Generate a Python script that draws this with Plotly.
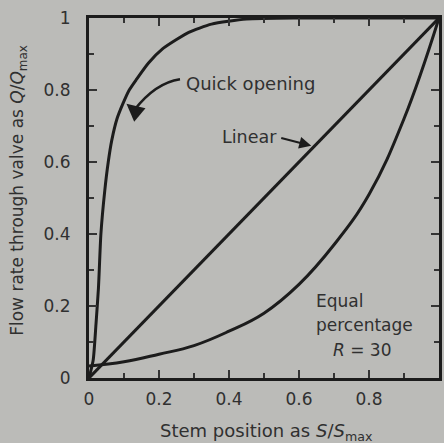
import plotly.graph_objects as go

# ---- data ----
quick_x = [0.0, 0.012, 0.02, 0.027, 0.034, 0.045, 0.055, 0.065, 0.08, 0.096, 0.115,
           0.136, 0.17, 0.21, 0.25, 0.285, 0.35, 0.45, 0.6, 0.8, 1.0]
quick_y = [0.0, 0.05, 0.15, 0.25, 0.4, 0.52, 0.6, 0.66, 0.72, 0.76, 0.8,
           0.83, 0.875, 0.914, 0.94, 0.96, 0.983, 0.997, 1.0, 1.0, 1.0]

linear_x = [0.0, 1.0]
linear_y = [0.0, 1.0]

equal_x = [0.0, 0.1, 0.2, 0.3, 0.4, 0.5, 0.6, 0.7, 0.8, 0.9, 1.0]
equal_y = [0.033, 0.045, 0.066, 0.09, 0.13, 0.18, 0.26, 0.37, 0.51, 0.72, 1.0]

x_tickvals = [0, 0.2, 0.4, 0.6, 0.8]
x_ticktext = ["0", "0.2", "0.4", "0.6", "0.8"]
y_tickvals = [0, 0.2, 0.4, 0.6, 0.8, 1.0]
y_ticktext = ["0", "0.2", "0.4", "0.6", "0.8", "1"]

INK = "#1c1c1c"
TXT = "#303030"
BG = "#bbbbb8"
FONT = "DejaVu Sans"

fig = go.Figure()
fig.add_trace(go.Scatter(x=quick_x, y=quick_y, mode="lines",
                         line=dict(color=INK, width=3, shape="spline", smoothing=0.6)))
fig.add_trace(go.Scatter(x=linear_x, y=linear_y, mode="lines",
                         line=dict(color=INK, width=3)))
fig.add_trace(go.Scatter(x=equal_x, y=equal_y, mode="lines",
                         line=dict(color=INK, width=3, shape="spline", smoothing=1.2)))

axis_common = dict(
    range=[0, 1], showgrid=False, zeroline=False, showline=True, linewidth=3,
    linecolor=INK, mirror="ticks", ticks="inside", ticklen=8, tickwidth=2,
    tickcolor="#333333", tickfont=dict(family=FONT, size=17, color=TXT),
    minor=dict(ticks="inside", ticklen=5, tickwidth=2, dtick=0.1, tick0=0,
               tickcolor="#333333"),
)
fig.update_xaxes(**axis_common, tickvals=x_tickvals, ticktext=x_ticktext,
                 ticklabelstandoff=4)
fig.update_yaxes(**axis_common, tickvals=y_tickvals, ticktext=y_ticktext,
                 ticklabelstandoff=12)

annotations = [
    # axis titles
    dict(text="Flow rate through valve as <i>Q</i>/<i>Q</i><sub>max</sub>",
         xref="paper", yref="paper", x=0, y=0.52, xshift=-70, xanchor="center",
         yanchor="middle", textangle=-90,
         showarrow=False, font=dict(family=FONT, size=17, color=TXT)),
    dict(text="Stem position as <i>S</i>/<i>S</i><sub>max</sub>",
         xref="paper", yref="paper", x=0.507, y=-0.15, xanchor="center",
         yanchor="middle", showarrow=False,
         font=dict(family=FONT, size=18, color=TXT)),
    # curve labels
    dict(text="Quick opening", x=0.27, y=0.818, xanchor="left", showarrow=False,
         font=dict(family=FONT, size=18, color=TXT)),
    dict(text="", x=0.107, y=0.762, ax=0.14, ay=0.735, axref="x", ayref="y",
         showarrow=True, arrowhead=2, arrowsize=1.4, arrowwidth=2.5, arrowcolor=INK),
    dict(text="Linear", x=0.375, y=0.67, xanchor="left", showarrow=False,
         font=dict(family=FONT, size=17.5, color=TXT)),
    dict(text="", x=0.635, y=0.645, ax=0.545, ay=0.668, axref="x", ayref="y",
         showarrow=True, arrowhead=2, arrowsize=1.2, arrowwidth=2, arrowcolor=INK),
    dict(text="Equal", x=0.644, y=0.215, xanchor="left", showarrow=False,
         font=dict(family=FONT, size=17, color=TXT)),
    dict(text="percentage", x=0.644, y=0.146, xanchor="left", showarrow=False,
         font=dict(family=FONT, size=17, color=TXT)),
    dict(text="<i>R</i> = 30", x=0.78, y=0.077, xanchor="center", showarrow=False,
         font=dict(family=FONT, size=17, color=TXT)),
]

shapes = [
    # curved leader of the "Quick opening" arrow
    dict(type="path", path="M 0.26,0.83 Q 0.19,0.82 0.13,0.745",
         line=dict(color=INK, width=2.5)),
]

fig.update_layout(
    width=444, height=443, showlegend=False,
    paper_bgcolor=BG, plot_bgcolor=BG,
    margin=dict(l=89, r=2, t=18, b=65),
    annotations=annotations, shapes=shapes,
)

fig.write_html("out.html", config={"displayModeBar": False},
               post_script="document.body.style.margin='0';"
                           "document.body.style.overflow='hidden';")
